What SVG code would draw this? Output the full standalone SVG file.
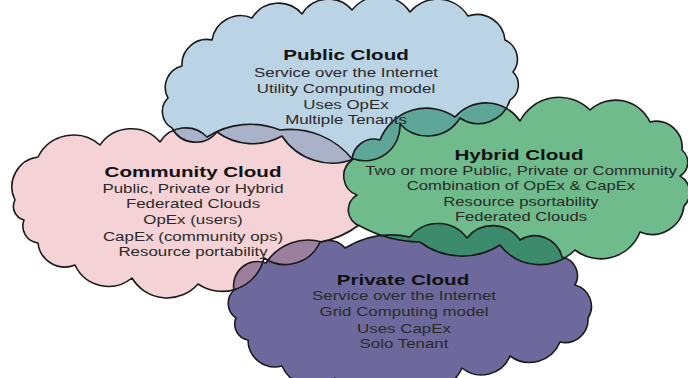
<svg xmlns="http://www.w3.org/2000/svg" xmlns:xlink="http://www.w3.org/1999/xlink" width="688" height="378" viewBox="0 0 688 378">
<style>
.sh{stroke:#1a1a1a;stroke-width:1.6;stroke-linejoin:round}
.ln{fill:none;stroke:#1a1a1a;stroke-width:1.6;stroke-linejoin:round}
text{font-family:"Liberation Sans",Arial,sans-serif;text-anchor:middle}
.t{font-size:15px;font-weight:bold;fill:#111}
.b{font-size:13px;fill:#2a2a2a}
</style>
<defs>
<path id="p-pub" d="M172,128 A19,19 0 0 1 168,98 A22,22 0 0 1 182,66 A25,25 0 0 1 212,40 A29,29 0 0 1 252,18 A31,31 0 0 1 302,14 A31,31 0 0 1 352,10 A36,36 0 0 1 410,12 A36,36 0 0 1 468,16 A28,28 0 0 1 505,40 A21,21 0 0 1 513,72 A18,18 0 0 1 510,100 A33,33 0 0 1 460,118 A38,38 0 0 1 400,124 A35,35 0 0 1 354,159 A60,60 0 0 1 282,136 A60,60 0 0 1 217,132 A27,27 0 0 1 172,128 Z"/>
<path id="p-com" d="M15,200 A30,30 0 0 1 38,157 A40,40 0 0 1 100,145 A38,38 0 0 1 160,142 A30,30 0 0 1 207,137 A80,80 0 0 1 280,130 A80,80 0 0 1 353,160 A24,24 0 0 1 364,195 A20,20 0 0 1 359,225 A90,90 0 0 1 320,242 A38,38 0 0 1 264,258 A43,43 0 0 1 198,284 A41,41 0 0 1 132,278 A37,37 0 0 1 75,265 A27,27 0 0 1 38,243 A17,17 0 0 1 24,220 A14,14 0 0 1 15,200 Z"/>
<path id="p-hyb" d="M352,160 A22,22 0 0 1 380,140 A50,50 0 0 1 455,117 A41,41 0 0 1 520,121 A44,44 0 0 1 590,110 A38,38 0 0 1 650,122 A26,26 0 0 1 682,150 A16,16 0 0 1 680,176 A19,19 0 0 1 684,206 A32,32 0 0 1 640,232 A42,42 0 0 1 575,250 A50,50 0 0 1 500,245 A70,70 0 0 1 420,242 A130,130 0 0 1 360,226 A17,17 0 0 1 357,195 A20,20 0 0 1 352,160 Z"/>
<path id="p-pri" d="M266,263 A50,50 0 0 1 322,242 A20,20 0 0 1 345,248 A90,90 0 0 1 410,237 A36,36 0 0 1 467,238 A33,33 0 0 1 520,240 A28,28 0 0 1 562,257 A19,19 0 0 1 575,285 A22,22 0 0 1 588,318 A23,23 0 0 1 560,342 A33,33 0 0 1 510,356 A31,31 0 0 1 462,368 A33,33 0 0 1 410,380 A47,47 0 0 1 335,378 A34,34 0 0 1 282,366 A27,27 0 0 1 248,340 A16,16 0 0 1 236,318 A18,18 0 0 1 234,290 A24,24 0 0 1 266,263 Z"/>
<clipPath id="c-com"><use xlink:href="#p-com"/></clipPath>
<clipPath id="c-pri"><use xlink:href="#p-pri"/></clipPath>
<clipPath id="c-hyb"><use xlink:href="#p-hyb"/></clipPath>
<clipPath id="c-pub"><use xlink:href="#p-pub"/></clipPath>
</defs>
<rect width="688" height="378" fill="#ffffff"/>

<g id="community-cloud">
<use xlink:href="#p-com" class="sh" fill="#f4d2d5"/>
<g transform="translate(193 0) scale(1.37 1)"><text class="t" x="0" y="177">Community Cloud</text></g>
<g transform="translate(193 0) scale(1.3 1)">
<text class="b" x="0" y="193">Public, Private or Hybrid</text>
<text class="b" x="0" y="208">Federated Clouds</text>
<text class="b" x="0" y="224">OpEx (users)</text>
<text class="b" x="0" y="241">CapEx (community ops)</text>
<text class="b" x="0" y="256">Resource portability</text>
</g>
</g>

<g id="private-cloud">
<use xlink:href="#p-pri" fill="#6d699d"/>
<use xlink:href="#p-pri" fill="#9c7e9f" clip-path="url(#c-com)"/>
<use xlink:href="#p-com" class="ln" clip-path="url(#c-pri)"/>
<use xlink:href="#p-pri" class="ln"/>
<g transform="translate(403 0) scale(1.37 1)"><text class="t" x="0" y="285">Private Cloud</text></g>
<g transform="translate(404 0) scale(1.3 1)">
<text class="b" x="0" y="300">Service over the Internet</text>
<text class="b" x="0" y="316">Grid Computing model</text>
<text class="b" x="0" y="333">Uses CapEx</text>
<text class="b" x="0" y="348">Solo Tenant</text>
</g>
</g>

<g id="hybrid-cloud">
<use xlink:href="#p-hyb" fill="#6fbb8c"/>
<use xlink:href="#p-hyb" fill="#3d8b6d" clip-path="url(#c-pri)"/>
<use xlink:href="#p-pri" class="ln" clip-path="url(#c-hyb)"/>
<use xlink:href="#p-hyb" class="ln"/>
<g transform="translate(519 0) scale(1.37 1)"><text class="t" x="0" y="160">Hybrid Cloud</text></g>
<g transform="translate(521 0) scale(1.28 1)">
<text class="b" x="0" y="175">Two or more Public, Private or Community</text>
<text class="b" x="0" y="190">Combination of OpEx &amp; CapEx</text>
<text class="b" x="0" y="206">Resource psortability</text>
<text class="b" x="0" y="221">Federated Clouds</text>
</g>
</g>

<g id="public-cloud">
<use xlink:href="#p-pub" fill="#bad3e5"/>
<use xlink:href="#p-pub" fill="#a9b2c9" clip-path="url(#c-com)"/>
<use xlink:href="#p-pub" fill="#5da698" clip-path="url(#c-hyb)"/>
<use xlink:href="#p-com" class="ln" clip-path="url(#c-pub)"/>
<use xlink:href="#p-hyb" class="ln" clip-path="url(#c-pub)"/>
<use xlink:href="#p-pub" class="ln"/>
<g transform="translate(346 0) scale(1.37 1)"><text class="t" x="0" y="60">Public Cloud</text></g>
<g transform="translate(346 0) scale(1.3 1)">
<text class="b" x="0" y="77">Service over the Internet</text>
<text class="b" x="0" y="93">Utility Computing model</text>
<text class="b" x="0" y="109">Uses OpEx</text>
<text class="b" x="0" y="124">Multiple Tenants</text>
</g>
</g>
</svg>
